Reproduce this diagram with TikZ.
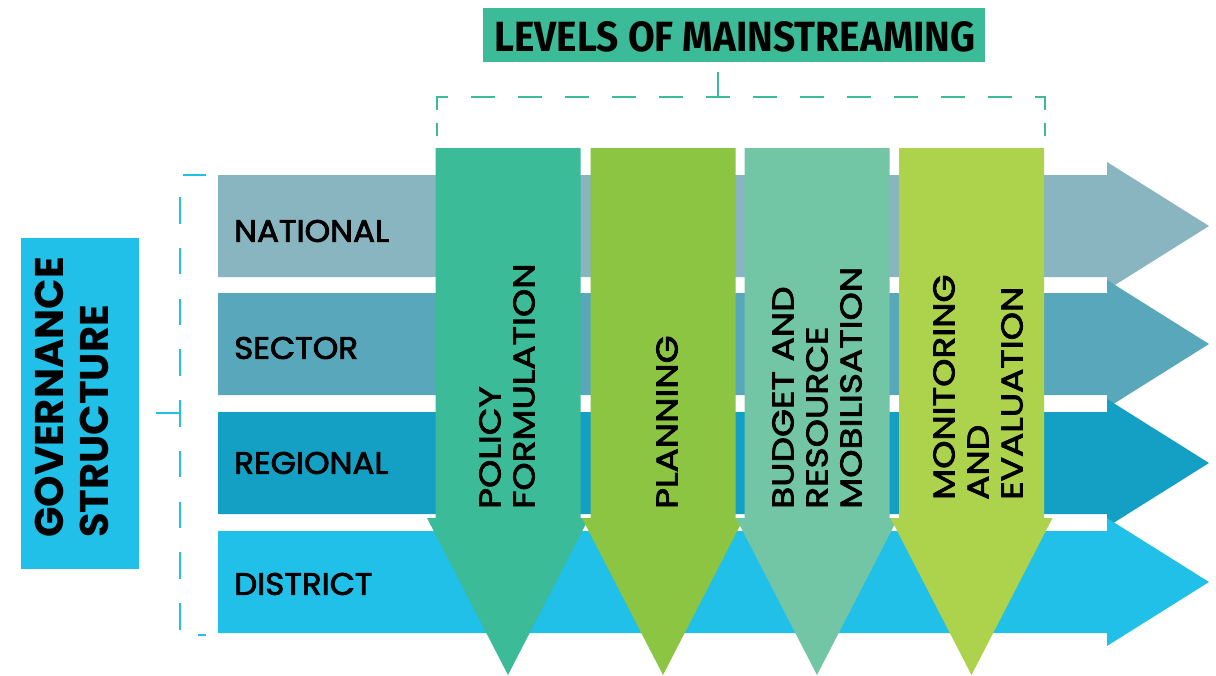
\documentclass[tikz,border=0pt]{standalone}
\usepackage{fontspec}
\setmainfont{Poppins}
\newfontfamily\medfont[FakeBold=2.6,FakeStretch=1.2]{Poppins}
\newfontfamily\rowfont[FakeBold=2.6,FakeStretch=1.05]{Poppins}
\newfontfamily\headfont{Fira Sans}
\definecolor{cNat}{HTML}{88B5C0}
\definecolor{cSec}{HTML}{58A7BB}
\definecolor{cReg}{HTML}{14A0C4}
\definecolor{cDis}{HTML}{20C0E8}
\definecolor{cPol}{HTML}{3BBB98}
\definecolor{cPla}{HTML}{8BC541}
\definecolor{cBud}{HTML}{72C6A5}
\definecolor{cMon}{HTML}{ADD24B}
\begin{document}
\begin{tikzpicture}[x=1pt,y=-1pt,
  rowlabel/.style={anchor=west,inner sep=0pt,font=\rowfont\fontsize{31}{34}\selectfont},
  collabel/.style={rotate=90,anchor=west,inner sep=0pt,align=left,font=\medfont\fontsize{30}{34}\selectfont},
  bracketline/.style={line width=2pt}]
\useasboundingbox (0,0) rectangle (1216,675);
% horizontal arrows
\foreach \c/\col in {226/cNat,344/cSec,463/cReg,582/cDis}{
  \fill[\col] (218,\c-51) -- (1107,\c-51) -- (1107,\c-64) -- (1209,\c) -- (1107,\c+64) -- (1107,\c+51) -- (218,\c+51) -- cycle;
}
\node[rowlabel] (nat) at (234,231) {NATIONAL};
\node[rowlabel] (sec) at (234,348) {SECTOR};
\node[rowlabel] (reg) at (234,463) {REGIONAL};
\node[rowlabel] (dis) at (234,584) {DISTRICT};
% vertical arrows
\foreach \c/\col in {508/cPol,663/cPla,817/cBud,971.5/cMon}{
  \fill[\col] (\c-72.5,148) -- (\c+72.5,148) -- (\c+72.5,518) -- (\c+81,518) -- (\c,675) -- (\c-81,518) -- (\c-72.5,518) -- cycle;
}
\node[collabel] (pol) at (507,509) {POLICY\\FORMULATION};
\node[collabel] (pla) at (667,509) {PLANNING};
\node[collabel] (bud) at (817,509) {BUDGET AND\\RESOURCE\\MOBILISATION};
\node[collabel] (mon) at (978,500) {MONITORING\\AND\\EVALUATION};
% governance box
\node[fill=cDis,minimum width=118pt,minimum height=331pt,inner sep=0pt] (gov) at (80,403.5) {};
\node[rotate=90,anchor=west,inner sep=0pt,align=left,font=\fontsize{40}{45}\selectfont\bfseries] (govt) at (72,538) {GOVERNANCE\\STRUCTURE};
% levels box
\node[fill=cPol,minimum width=502pt,minimum height=54pt,inner sep=0pt] (lev) at (734,35) {};
\node[inner sep=0pt] (levt) at (735,37) {\resizebox{481pt}{30pt}{\headfont\bfseries LEVELS OF MAINSTREAMING}};
% top bracket
\coordinate (tl) at (437,97);
\coordinate (tr) at (1045,97);
\draw[bracketline,cPol,dash pattern=on 23.5pt off 23.5pt,dash phase=12.6pt] (tl) -- (tr);
\draw[bracketline,cPol] (437,96) -- (437,110) (437,123) -- (437,136);
\draw[bracketline,cPol] (1045,96) -- (1045,110) (1045,123) -- (1045,136);
\coordinate (tt) at (718,72);
\draw[bracketline,cPol] (tt) -- (718,97);
% left bracket
\draw[bracketline,cDis] (183,175) -- (206,175);
\draw[bracketline,cDis,dash pattern=on 26.5pt off 24.25pt] (180,197) -- (180,631);
\draw[bracketline,cDis] (198,635) -- (206,635);
\coordinate (lt) at (156,413);
\draw[bracketline,cDis] (lt) -- (180,413);
\end{tikzpicture}
\end{document}
